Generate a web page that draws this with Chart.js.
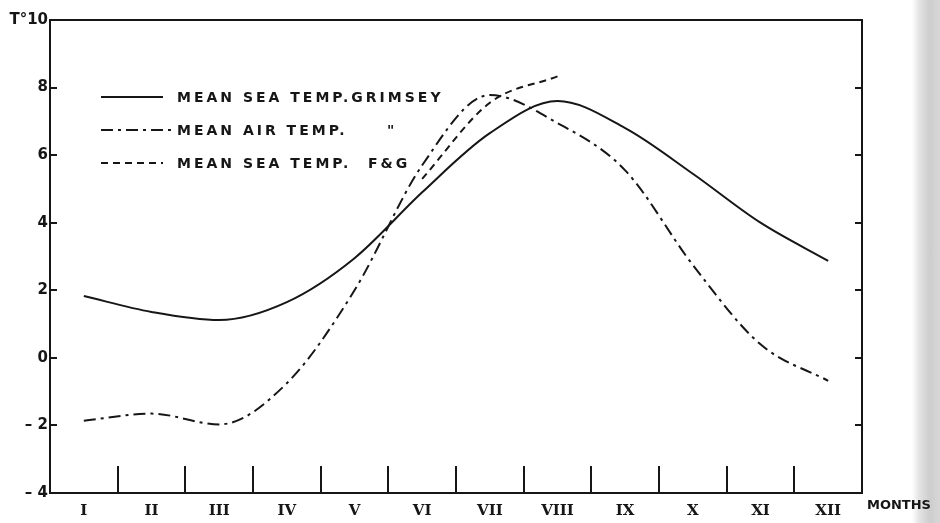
<!DOCTYPE html>
<html>
<head>
<meta charset="utf-8">
<script src="https://cdn.jsdelivr.net/npm/chart.js@4.4.1/dist/chart.umd.min.js"></script>
<style>
  html, body { margin: 0; padding: 0; }
  body {
    width: 940px; height: 523px; overflow: hidden;
    background: linear-gradient(to right, #fff 0, #fff 912px, #e4e4e4 919px, #cdcdcd 930px, #d8d8d8 940px);
  }
  #wrap { position: relative; width: 940px; height: 523px; }
</style>
</head>
<body>
<div id="wrap"><canvas id="chart"></canvas></div>
<script>
// months along the bottom, temperatures in deg C
const months = ['I', 'II', 'III', 'IV', 'V', 'VI', 'VII', 'VIII', 'IX', 'X', 'XI', 'XII'];
const seaGrimsey = [1.83, 1.36, 1.12, 1.65, 2.95, 4.9, 6.65, 7.6, 6.8, 5.45, 4.0, 2.87];
const airGrimsey = [-1.86, -1.65, -1.97, -0.75, 2.0, 5.7, 7.78, 6.95, 5.55, 2.75, 0.4, -0.68];
const seaFG = [null, null, null, null, null, 5.3, 7.55, 8.33, null, null, null, null];
const yTicks = [-4, -2, 0, 2, 4, 6, 8, 10];
const legendLabels = ['MEAN SEA TEMP.GRIMSEY', 'MEAN AIR TEMP.', 'MEAN SEA TEMP.'];
const legendNotes = ['', '"', 'F\u0026G'];

const INK = '#161616';

// legend drawn inside the plot like the original, plus the MONTHS caption
const paperLegend = {
  id: 'paperLegend',
  afterDraw(chart) {
    const { ctx, chartArea } = chart;
    ctx.save();
    chart.data.datasets.forEach((ds, i) => {
      const y = chartArea.top + 77 + i * 33;
      const x1 = chartArea.left + 51;
      const x2 = chartArea.left + (i === 1 ? 123 : 113);
      ctx.strokeStyle = INK;
      ctx.lineWidth = 2;
      ctx.setLineDash(ds.borderDash || []);
      ctx.beginPath();
      ctx.moveTo(x1, y);
      ctx.lineTo(x2, y);
      ctx.stroke();
      ctx.setLineDash([]);

      ctx.fillStyle = INK;
      ctx.font = 'bold 14px "DejaVu Sans"';
      ctx.letterSpacing = '3px';
      ctx.textBaseline = 'middle';
      ctx.textAlign = 'left';
      ctx.fillText(ds.label, chartArea.left + 127, y + 1);
      if (legendNotes[i]) {
        ctx.fillText(legendNotes[i], chartArea.left + (i === 1 ? 337 : 318), y + 1);
      }
    });
    ctx.letterSpacing = '0px';
    ctx.font = 'bold 13px "DejaVu Sans"';
    ctx.textBaseline = 'middle';
    ctx.fillText('MONTHS', chartArea.right + 5, chartArea.bottom + 13);
    ctx.restore();
  }
};

const ctx = document.getElementById('chart').getContext('2d');
new Chart(ctx, {
  type: 'line',
  data: {
    labels: months,
    datasets: [
      {
        label: legendLabels[0],
        data: seaGrimsey,
        borderColor: INK,
        borderWidth: 2,
        borderDash: [],
        pointRadius: 0,
        cubicInterpolationMode: 'monotone'
      },
      {
        label: legendLabels[1],
        data: airGrimsey,
        borderColor: INK,
        borderWidth: 2,
        borderDash: [12, 5, 3, 5],
        pointRadius: 0,
        cubicInterpolationMode: 'monotone'
      },
      {
        label: legendLabels[2],
        data: seaFG,
        borderColor: INK,
        borderWidth: 2,
        borderDash: [7, 5],
        pointRadius: 0,
        cubicInterpolationMode: 'monotone'
      }
    ]
  },
  options: {
    responsive: true,
    maintainAspectRatio: false,
    animation: false,
    layout: { padding: { top: 20, right: 78, bottom: 0, left: 0 } },
    plugins: {
      legend: { display: false },
      tooltip: { enabled: false }
    },
    scales: {
      x: {
        type: 'category',
        offset: true,
        grid: { offset: true, drawOnChartArea: false, tickLength: -27, color: INK, lineWidth: 2 },
        border: { display: true, color: INK, width: 2 },
        ticks: {
          padding: 36,
          color: INK,
          maxRotation: 0,
          autoSkip: false,
          font: { family: 'DejaVu Serif', size: 15, weight: 'bold' }
        },
        afterFit(s) { s.height = 30; }
      },
      xTop: {
        type: 'category',
        position: 'top',
        labels: months,
        grid: { display: false },
        ticks: { display: false },
        border: { display: true, color: INK, width: 2 },
        afterFit(s) { s.height = 0; }
      },
      y: {
        min: -4,
        max: 10,
        grid: { drawOnChartArea: false, tickLength: -7, color: INK, lineWidth: 2 },
        border: { display: true, color: INK, width: 2 },
        afterBuildTicks(s) { s.ticks = yTicks.map(v => ({ value: v })); },
        ticks: {
          padding: 9,
          color: INK,
          font: { family: 'DejaVu Sans', size: 15, weight: 'bold' },
          callback: v => v === 10 ? 'T\u00B010' : (v < 0 ? '\u2013 ' + Math.abs(v) : String(v))
        },
        afterFit(s) { s.width = 50; }
      },
      yRight: {
        type: 'linear',
        position: 'right',
        min: -4,
        max: 10,
        grid: { drawOnChartArea: false, tickLength: -7, color: INK, lineWidth: 2 },
        border: { display: true, color: INK, width: 2 },
        afterBuildTicks(s) { s.ticks = yTicks.map(v => ({ value: v })); },
        ticks: { display: false },
        afterFit(s) { s.width = 0; }
      }
    }
  },
  plugins: [paperLegend]
});
</script>
</body>
</html>
